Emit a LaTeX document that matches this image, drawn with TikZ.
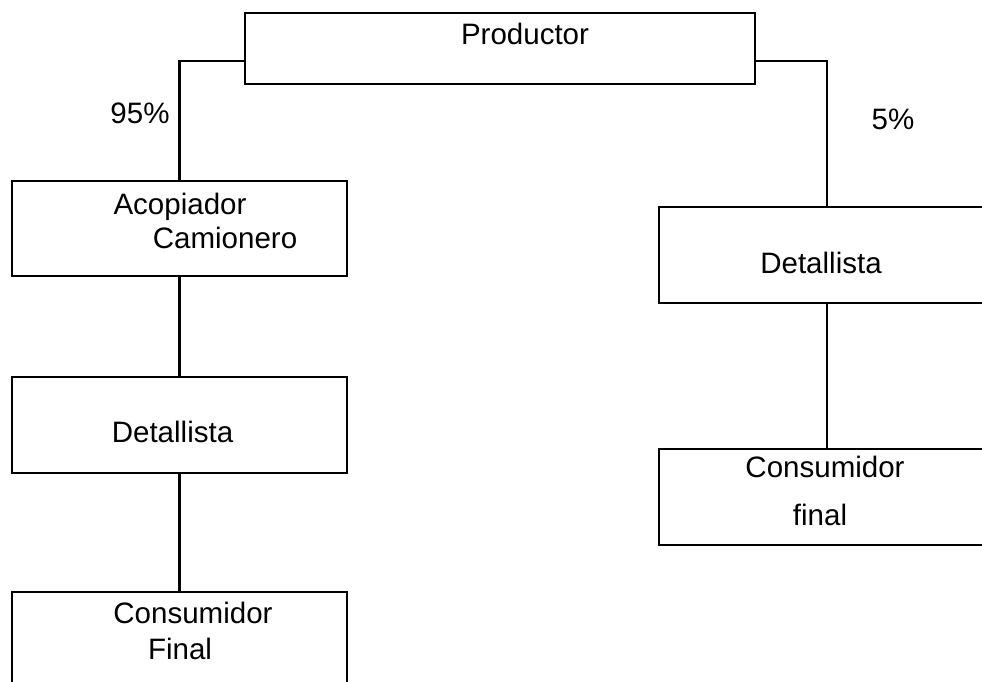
\documentclass[tikz,border=0pt]{standalone}
\usepackage{fontspec}
\setmainfont{Liberation Sans}
\usetikzlibrary{positioning}

\tikzset{
  box/.style={draw, line width=1.2pt, inner sep=0pt},
  lbl/.style={anchor=base, inner sep=0pt, font=\fontsize{16.8}{20}\selectfont},
  link/.style={line width=1.2pt}
}

\begin{document}
\begin{tikzpicture}
            \clip (0,0) rectangle (19.64,-13.62);

            % boxes
            \node[box, minimum width=10.2cm, minimum height=1.42cm] (prod) at (10.0,-0.97) {};
            \node[box, minimum width=6.7cm, minimum height=1.9cm] (acop) at (3.59,-4.57) {};
            \node[box, minimum width=6.7cm, minimum height=1.92cm] (detA) at (3.59,-8.5) {};
            \node[box, minimum width=6.7cm, minimum height=1.92cm] (consA) at (3.59,-12.8) {};
            \node[box, minimum width=6.72cm, minimum height=1.92cm] (detB) at (16.54,-5.1) {};
            \node[box, minimum width=6.72cm, minimum height=1.92cm] (consB) at (16.54,-9.94) {};

            % texts
            \node[lbl] (prodtxt) at (10.5,-0.88) {Productor};
            \node[lbl] (acoptxt) at (3.6,-4.28) {Acopiador};
            \node[lbl] (camtxt) at (4.5,-4.96) {Camionero};
            \node[lbl] (detAtxt) at (3.45,-8.84) {Detallista};
            \node[lbl] (consAtxt) at (3.86,-12.46) {Consumidor};
            \node[lbl] (finAtxt) at (3.6,-13.18) {Final};
            \node[lbl] (detBtxt) at (16.42,-5.46) {Detallista};
            \node[lbl] (consBtxt) at (16.5,-9.54) {Consumidor};
            \node[lbl] (finBtxt) at (16.4,-10.5) {final};

            \node[lbl] (pctA) at (2.8,-2.46) {95\%};
            \node[lbl] (pctB) at (17.86,-2.58) {5\%};

            % connectors
            \draw[link] ([yshift=-0.25cm]prod.west) -| (acop.north);
            \draw[link] ([yshift=-0.25cm]prod.east) -| (detB.north);
            \draw[link] (acop.south) -- (detA.north);
            \draw[link] (detA.south) -- (consA.north);
            \draw[link] (detB.south) -- (consB.north);
\end{tikzpicture}
\end{document}
